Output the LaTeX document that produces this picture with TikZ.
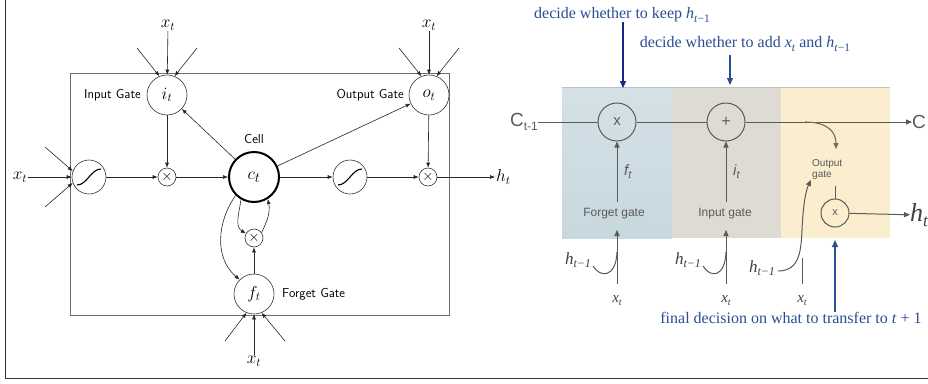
\documentclass[tikz,border=0pt]{standalone}
\usepackage{fontspec}
\usetikzlibrary{arrows.meta}
\newfontfamily\tms{Liberation Serif}
\newfontfamily\hlv{Liberation Sans}
\definecolor{navyA}{RGB}{25,38,135}
\definecolor{bluT}{RGB}{42,78,145}
\definecolor{gline}{RGB}{90,90,90}
\definecolor{rectg}{RGB}{110,110,110}
\definecolor{pblue}{RGB}{212,225,231}
\definecolor{pblueb}{RGB}{200,216,223}
\definecolor{pgray}{RGB}{222,219,212}
\definecolor{pyel}{RGB}{251,238,206}
\definecolor{brn}{RGB}{125,108,78}
\newcommand\sub[2]{\raisebox{-0.2em}{\fontsize{#1}{#1}\selectfont #2}}
\tikzset{
  arr/.style={draw=black!85, line width=0.6pt, -{Latex[length=5pt,width=4pt]}},
  gatec/.style={circle, draw=black!80, line width=0.6pt, minimum size=40pt, inner sep=0pt, font=\fontsize{18}{18}\selectfont},
  sigc/.style={circle, draw=black!80, line width=0.6pt, minimum size=34pt, inner sep=0pt},
  mulc/.style={circle, draw=black!80, line width=0.6pt, minimum size=18pt, inner sep=0pt, font=\fontsize{14}{14}\selectfont},
  cellc/.style={circle, draw=black, line width=2pt, minimum size=50pt, inner sep=0pt, font=\fontsize{19}{19}\selectfont},
  mlab/.style={inner sep=1pt, font=\fontsize{18}{18}\selectfont},
  glab/.style={inner sep=0pt, font=\sffamily\fontsize{13}{13}\selectfont},
  rarr/.style={draw=gline, line width=1pt, -{Triangle[length=6pt,width=5pt]}},
  rcirc/.style={circle, draw=gline, line width=1pt, inner sep=0pt, text=gline},
  rlab/.style={inner sep=0pt, text=gline, font=\hlv\fontsize{12}{12}\selectfont},
  slab/.style={inner sep=0pt, text=black!75, font=\tms\itshape\fontsize{17}{17}\selectfont},
  blab/.style={inner sep=0pt, text=bluT, font=\tms\fontsize{16}{16}\selectfont},
  barr/.style={line width=1.3pt, -{Triangle[length=7pt,width=6pt]}},
}
\begin{document}
\begin{tikzpicture}[x=1pt,y=1pt]
\useasboundingbox (0,0) rectangle (928,-383);
\fill[white] (0,0) rectangle (928,-383);
% outer frame
\draw[black!80, line width=1pt] (5,0) -- (5,-378) -- (928,-378);

% ================= LEFT DIAGRAM =================
\draw[rectg, line width=0.8pt] (70,-73) rectangle (449,-315);

\node[gatec] (it) at (167,-95) {$i_t$};
\node[gatec] (ot) at (429,-95) {$o_t$};
\node[sigc, fill=white] (s1) at (89,-177) {};
\node[mulc] (m1) at (167,-177) {$\times$};
\node[cellc] (ct) at (254,-177) {$c_t$};
\node[sigc] (s2) at (350,-177) {};
\node[mulc] (m2) at (428,-177) {$\times$};
\node[mulc] (m3) at (254,-238) {$\times$};
\node[gatec, fill=white] (ft) at (254,-294) {$f_t$};

\draw[line width=1.1pt] ([shift={(-12,-8)}]s1.center) .. controls +(10,0) and +(-10,0) .. ([shift={(12,8)}]s1.center);
\draw[line width=1.1pt] ([shift={(-12,-8)}]s2.center) .. controls +(10,0) and +(-10,0) .. ([shift={(12,8)}]s2.center);

\node[glab, anchor=east] (lig) at (141,-95) {Input Gate};
\node[glab, anchor=east] (log) at (404,-95) {Output Gate};
\node[glab] (lce) at (254,-139) {Cell};
\node[glab, anchor=west] (lfg) at (282,-294) {Forget Gate};

\node[mlab] (xi) at (168,-25) {$x_t$};
\node[mlab] (xo) at (429,-25) {$x_t$};
\node[mlab] (xl) at (20,-177) {$x_t$};
\node[mlab] (xf) at (254,-361) {$x_t$};
\node[mlab, anchor=west] (ht) at (495,-177) {$h_t$};

\coordinate (ia) at (137,-48);
\coordinate (ib) at (197,-48);
\coordinate (oa) at (399,-48);
\coordinate (ob) at (459,-48);
\coordinate (sa) at (45,-147);
\coordinate (sb) at (45,-207);
\coordinate (fa) at (225,-341);
\coordinate (fb) at (285,-341);

\draw[arr] (xi) -- (it);
\draw[arr] (ia) -- (it.112);
\draw[arr] (ib) -- (it.68);
\draw[arr] (xo) -- (ot);
\draw[arr] (oa) -- (ot.112);
\draw[arr] (ob) -- (ot.68);
\draw[arr] (xl) -- (s1);
\draw[arr] (sa) -- (s1.160);
\draw[arr] (sb) -- (s1.200);
\draw[arr] (xf) -- (ft);
\draw[arr] (fa) -- (ft.248);
\draw[arr] (fb) -- (ft.292);

\draw[arr] (s1) -- (m1);
\draw[arr] (it) -- (m1);
\draw[arr] (m1) -- (ct);
\draw[arr] (ct) -- (it);
\draw[arr] (ct) -- (ot);
\draw[arr] (ct) -- (s2);
\draw[arr] (s2) -- (m2);
\draw[arr] (ot) -- (m2);
\draw[arr] (m2) -- (ht);
\draw[arr] (ft) -- (m3);
\draw[arr] (ct.240) to[out=262,in=150] (m3.150);
\draw[arr] (m3.35) to[out=65,in=282] (ct.302);
\draw[arr] (ct.225) to[out=235,in=140] (ft.135);

% ================= RIGHT DIAGRAM =================
\shade[top color=pblue, bottom color=pblueb] (562,-87) rectangle (672,-238);
\fill[pgray] (672,-87) rectangle (781,-238);
\fill[pyel] (781,-87) rectangle (890,-238);
\draw[black!25, line width=0.5pt] (562,-87) -- (890,-87);

\node[rcirc, minimum size=38pt, font=\hlv\fontsize{15}{15}\selectfont] (cx) at (617,-122) {x};
\node[rcirc, minimum size=38pt, font=\hlv\fontsize{16}{16}\selectfont] (cp) at (726,-122) {+};
\node[inner sep=0pt, text=gline, anchor=east, font=\hlv\fontsize{19}{19}\selectfont] (cin) at (538,-122) {C\sub{12}{t-1}};
\node[inner sep=0pt, text=gline, anchor=west, font=\hlv\fontsize{19}{19}\selectfont] (cout) at (912,-122) {C};
\draw[draw=gline, line width=1pt] (cin) -- (cx);
\draw[draw=gline, line width=1pt] (cx) -- (cp);
\draw[rarr] (cp) -- (cout);

\node[rlab] (lfg2) at (614,-214) {Forget gate};
\node[rlab] (lig2) at (725,-214) {Input gate};
\node[rlab, anchor=west, align=left, font=\hlv\fontsize{10}{11}\selectfont] (log2) at (812,-170) {Output\\gate};
\node[inner sep=0pt, text=gline, anchor=west, font=\hlv\itshape\fontsize{15}{15}\selectfont] (lf) at (624,-172) {f\sub{11}{t}};
\node[inner sep=0pt, text=gline, anchor=west, font=\hlv\itshape\fontsize{15}{15}\selectfont] (li) at (733,-172) {i\sub{11}{t}};

\coordinate (fbot) at (617,-202);
\coordinate (ibot) at (726,-202);
\draw[rarr] (fbot) -- (cx);
\draw[rarr] (ibot) -- (cp);

\node[rcirc, minimum size=28pt, font=\hlv\fontsize{11}{11}\selectfont] (ox) at (835,-213) {x};
\coordinate (ostub) at (835,-186);
\draw[draw=gline, line width=1pt] (ostub) -- (ox);
\node[slab, anchor=west, font=\tms\itshape\fontsize{26}{26}\selectfont] (hto) at (910,-215) {h\sub{17}{t}};
\draw[rarr] (ox) -- (hto);

\coordinate (bstart) at (805,-122);
\coordinate (bend) at (836,-149);
\draw[draw=brn, line width=1.1pt, -{Triangle[length=6pt,width=5pt]}] (bstart) .. controls (825,-122) and (836,-130) .. (bend);

% bottom inputs
\node[slab] (hf) at (578,-260) {h\sub{12}{t−1}};
\node[slab] (hi) at (688,-260) {h\sub{12}{t−1}};
\node[slab] (ho) at (762,-268) {h\sub{12}{t−1}};
\node[slab, font=\tms\itshape\fontsize{15}{15}\selectfont] (xfr) at (617,-301) {x\sub{10}{t}};
\node[slab, font=\tms\itshape\fontsize{15}{15}\selectfont] (xir) at (726,-301) {x\sub{10}{t}};
\node[slab, font=\tms\itshape\fontsize{15}{15}\selectfont] (xor) at (802,-301) {x\sub{10}{t}};

\coordinate (fin) at (617,-230);
\coordinate (iin) at (726,-230);
\coordinate (fx0) at (617,-284);
\coordinate (ix0) at (726,-284);
\coordinate (ox0) at (802,-284);
\coordinate (oin) at (811,-180);
\draw[rarr] (fx0) -- (fin);
\draw[rarr] (ix0) -- (iin);
\draw[draw=gline, line width=1pt] (593,-266) .. controls (600,-278) and (616,-278) .. (617,-252);
\draw[draw=gline, line width=1pt] (703,-266) .. controls (710,-278) and (725,-278) .. (726,-252);
\draw[draw=gline, line width=1pt] (ox0) -- (802,-258);
\draw[rarr] (778,-271) .. controls (800,-271) and (801,-250) .. (802,-230) .. controls (803,-205) and (806,-190) .. (oin);

% blue annotations
\node[blab] (t1) at (622,-15) {decide whether to keep \textit{h}\sub{11.5}{\textit{t}−1}};
\node[blab] (t2) at (745,-44) {decide whether to add \textit{x}\sub{11.5}{\textit{t}} and \textit{h}\sub{11.5}{\textit{t}−1}};
\node[blab] (t3) at (791,-318) {final decision on what to transfer to \textit{t} + 1};
\coordinate (a1) at (623,-88);
\coordinate (a2) at (730,-85);
\coordinate (a3) at (835,-240);
\draw[barr, navyA] (t1.south -| a1) -- (a1);
\draw[barr, bluT] (t2.south -| a2) ++(0,-4) -- (a2);
\draw[barr, bluT] (t3.north -| a3) -- (a3);
\end{tikzpicture}
\end{document}
